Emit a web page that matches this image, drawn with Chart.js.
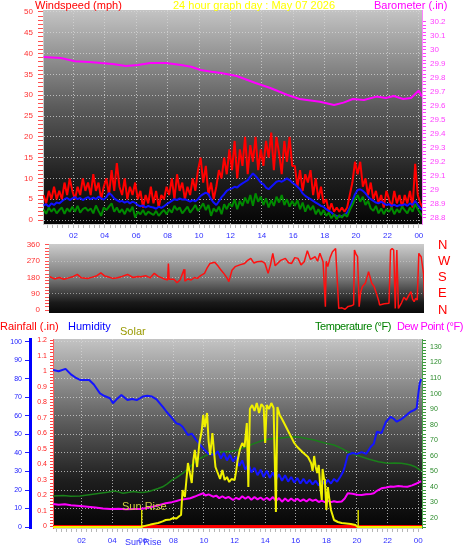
<!DOCTYPE html>
<html><head><meta charset="utf-8">
<script src="https://cdn.jsdelivr.net/npm/chart.js@4.4.1/dist/chart.umd.min.js"></script>
<style>
html,body{margin:0;padding:0;background:#fff;width:470px;height:554px;overflow:hidden;}
#wrap{position:relative;width:470px;height:554px;}
canvas{position:absolute;left:0;}
.t{position:absolute;font-family:"Liberation Sans",Arial,sans-serif;font-size:11px;line-height:11px;white-space:nowrap;}
</style></head><body>
<div id="wrap">
<canvas id="c1" width="470" height="245" style="top:0px"></canvas>
<canvas id="c2" width="470" height="102" style="top:228px"></canvas>
<canvas id="c3" width="470" height="234" style="top:320px"></canvas>
<div class="t" style="left:35px;top:0px;color:#ff0000">Windspeed (mph)</div>
<div class="t" style="left:173px;top:0px;color:#ffff00">24 hour graph day : May 07 2026</div>
<div class="t" style="left:374px;top:0px;color:#ff00ff">Barometer (.in)</div>
<div class="t" style="left:0px;top:321px;color:#ff0000">Rainfall (.in)</div>
<div class="t" style="left:68px;top:321px;color:#0000ff">Humidity</div>
<div class="t" style="left:120px;top:326px;color:#999900">Solar</div>
<div class="t" style="left:315px;top:321px;color:#008000;letter-spacing:-0.45px">Temperature (°F)</div>
<div class="t" style="left:397px;top:321px;color:#ff00ff;letter-spacing:-0.4px">Dew Point (°F)</div>
<div class="t" style="left:122px;top:501px;color:#d0d040">Sun Rise</div>
<div class="t" style="left:125px;top:537px;font-size:9px;color:#3030ff">Sun Rise</div>
</div>
<script>
// ---------- categories / tick labels ----------
const HOUR_TICKS  = [2,4,6,8,10,12,14,16,18,20,22,24];
const HOUR_LABELS = ['02','04','06','08','10','12','14','16','18','20','22','00'];
const WIND_TICKS  = [0,5,10,15,20,25,30,35,40,45,50];
const BARO_TICKS  = [28.8,28.9,29,29.1,29.2,29.3,29.4,29.5,29.6,29.7,29.8,29.9,30,30.1,30.2];
const DIR_TICKS   = [0,90,180,270,360];
const DIR_GRID    = [90,180,270];
const COMPASS     = ['N','E','S','W','N'];
const HUM_TICKS   = [0,10,20,30,40,50,60,70,80,90,100];
const RAIN_TICKS  = [0,0.1,0.2,0.3,0.4,0.5,0.6,0.7,0.8,0.9,1,1.1,1.2];
const TEMP_TICKS  = [20,30,40,50,60,70,80,90,100,110,120,130];

// ---------- wind speed (mph), one reading every 10 minutes from 00:06 ----------
const WIND_T0 = 0.1, WIND_DT = 1/6;
const GUST = [
 6,4,7,5,8,5, 7,5,9,6,10,7, 5,8,6,10,7,9, 6,11,7,9,5,8,
 10,6,12,7,13.7,8, 6,10,5,8,6,9, 5,7,3,6,4,8, 4,7,3,6,5,8,
 6,10,5,11,7,9, 5,8,6,10,7,12, 15,9,13,6,9,5, 8,12,10,15,11,17,
 12,19,10,17,13,20, 11,18,14,20,12,17, 13,19,15,21,12,20, 16,11,19,14,20,13,
 13,8,12,7,11,9, 12,6,10,5,8,4, 5,2,4,2,3,2, 3,2,3,6,9,14,
 11,14,8,10,6,9, 5,7,4,6,3,7, 5,3,7,4,6,3, 6,4,7,3,13.5,6,
 4,3];
const AVG = [
 3.5,3.8,3.2,4,3.6,4.2, 4,4.5,5,5.3,4.8,5.2, 5.5,5,5.3,4.8,5.2,5.5, 5,5.4,5,5.6,5.2,4.9,
 5.5,6.5,6,5.2,4.8,4.4, 4.6,4.2,4.5,4,4.4,4.1, 3.6,3.3,3.5,3,3.4,3.1, 3,2.7,3.2,2.9,3.3,3.8,
 4.2,4.6,5,4.8,5.2,4.9, 5,4.7,4.4,4.8,4.5,5, 5.8,6.2,6.6,6.2,5,4.2, 3.6,4.5,5.5,6.2,7,7.4,
 7.6,8,7.8,8.4,8.8,9.2, 9.6,10.4,11.2,10.6,9.8,9, 8.6,7.8,7.4,8,8.6,9.2, 9.4,9.2,9.6,10,9.6,9,
 8.6,8,7.4,6.4,5.8,5.4, 5,4.6,4.2,3.8,3.4,3.2, 2.6,2.2,1.8,1.2,1,0.8, 1,1.2,1.8,3,4.6,6.2,
 7.2,7.4,7,6.4,5.6,5, 4.6,4.2,4,4.4,4,3.6, 3.8,3.4,3.7,3.3,3.6,3.5, 3.8,3.4,4,3.6,4.6,3.6,
 2.8,2.4];
const LOW = [
 2.5,1.5,3,2,2.8,1.6, 2.4,3,1.5,2.8,2,3.2, 2,3.4,1.8,2.6,3,2.2, 2.8,1.6,3.5,2.2,1,3,
 2.4,3.2,4,2,3,1.8, 2.6,1.4,2.8,2,3.2,0.6, 2,1.4,2.4,1.2,2,1.6, 1.2,2.2,1,1.8,2.4,1.4,
 2.6,1.8,3.4,2.4,3,1.6, 2.4,3.2,1.8,2.6,3.6,2.2, 3,4,2.4,3.6,1,2.8, 2,3.2,1.4,3.8,2.6,4,
 3.2,5,2.6,4.6,3.4,5.4, 4,6,3.4,6.4,4.4,5.6, 3.6,5.2,3,4.8,3.4,5.6, 4.2,6,3.6,5,3.2,4.6,
 3.4,4.8,2.6,4.2,2,3.6, 2.4,3.4,1.4,2.6,1.2,2.4, 1,1.8,0.4,1.4,0.2,1.2, 0.6,1.4,0.8,2.4,3.6,5,
 6,4.4,5.6,3.6,4.6,2.8, 2.2,3.4,1.6,2.8,1.4,2.6, 2,3,1.4,2.6,1.8,3.2, 2.4,1.6,3,2,3.8,2.6,
 1.6,0.8];

// ---------- barometer (in) [hour, value] ----------
const BARO = [[0.1,29.95],[1.2,29.943],[2.1,29.92],[3.0,29.915],[3.75,29.907],[4.5,29.9],[5.35,29.886],
 [6.1,29.893],[6.9,29.907],[7.9,29.907],[8.85,29.893],[9.5,29.88],[10.1,29.857],[10.8,29.845],[11.4,29.836],
 [12.4,29.814],[13.6,29.764],[14.5,29.73],[15.6,29.68],[16.4,29.65],[17.7,29.63],[18.6,29.607],[19.2,29.624],
 [19.8,29.65],[20.5,29.643],[21.3,29.667],[21.9,29.657],[22.4,29.671],[23,29.65],[23.5,29.657],[24,29.71],[24.2,29.667]];

// ---------- wind direction (deg) [hour, value] ----------
const WIND_DIR = [[0.5,184],[0.8,172],[1.1,180],[1.4,170],[1.7,178],[2.0,186],[2.25,197],[2.5,178],[2.9,175],
 [3.2,182],[3.5,190],[3.75,206],[4.0,188],[4.2,184],[4.5,175],[4.8,179],[5.1,186],[5.45,197],[5.8,180],[6.1,186],
 [6.3,184],[6.6,190],[6.9,178],[7.15,203],[7.4,186],[7.6,179],[7.8,172],[8.0,166],[8.05,258],[8.1,170],[8.4,170],
 [8.6,151],[8.8,168],[9.05,225],[9.1,160],[9.3,172],[9.5,166],[9.7,180],[9.9,175],[10.1,190],[10.35,203],[10.5,230],
 [10.7,258],[11.0,264],[11.2,245],[11.4,221],[11.6,200],[11.8,175],[11.9,157],[12.1,220],[12.3,240],[12.6,250],
 [12.9,258],[13.1,275],[13.3,286],[13.5,260],[13.7,267],[14.0,270],[14.2,258],[14.4,203],[14.55,250],[14.7,314],
 [14.85,245],[15.0,258],[15.2,275],[15.5,286],[15.7,262],[15.9,258],[16.1,290],[16.3,286],[16.5,250],[16.7,267],
 [16.9,328],[17.1,280],[17.4,295],[17.55,270],[17.7,314],[17.9,267],[18.05,18],[18.1,270],[18.2,240],[18.35,290],
 [18.5,323],[18.7,341],[18.9,9],[19.1,12],[19.3,4],[19.5,20],[19.7,23],[19.85,30],[19.9,332],[20.0,310],[20.1,295],
 [20.2,18],[20.3,100],[20.4,129],[20.6,150],[20.8,212],[20.9,180],[21.0,148],[21.15,130],[21.3,92],[21.45,50],
 [21.5,28],[21.8,35],[22.1,37],[22.2,332],[22.3,340],[22.4,332],[22.5,9],[22.6,332],[22.7,9],[22.9,40],[23.05,70],
 [23.2,55],[23.35,80],[23.5,101],[23.6,60],[23.7,46],[23.8,65],[23.9,55],[24.0,314],[24.1,300],[24.15,295],
 [24.3,200],[24.4,9]];

// ---------- humidity (%) [hour, value] ----------
const HUMIDITY = [[0.13,84.9],[0.5,84.2],[0.95,85.5],[1.3,82.5],[1.6,80.8],[1.9,79.5],[2.5,79.5],[2.8,77],[3.2,72.2],
 [3.5,70.8],[3.85,69.6],[4.05,66.9],[4.35,69.5],[4.6,71.4],[4.8,70],[5.0,68.6],[5.3,69.2],[5.6,68.6],[6.0,70.5],
 [6.3,71],[6.6,70.5],[6.9,69],[7.1,67],[7.35,64.5],[7.55,62.3],[7.9,59],[8.2,56],[8.4,55.5],[8.6,54.2],[8.95,49.7],
 [9.2,50.5],[9.5,47],[9.7,45],[10.0,42],[10.3,39.5],[10.7,39],[10.9,41],[11.1,37],[11.3,40],[11.5,36],[11.7,39],
 [11.9,35.5],[12.1,38],[12.3,33],[12.5,36],[12.7,31],[12.9,34],[13.1,29.5],[13.3,32],[13.5,28],[13.7,31],[13.9,27],
 [14.1,30.5],[14.3,26.5],[14.5,29.5],[14.7,25.5],[14.9,28.5],[15.1,25],[15.3,28],[15.5,24.5],[15.7,27],[15.9,24],
 [16.1,26.5],[16.3,23.5],[16.5,26],[16.7,23.5],[16.9,25.5],[17.1,23],[17.3,25],[17.5,22.5],[17.7,25],[17.9,23],
 [18.1,25.5],[18.3,23.5],[18.5,26],[18.7,24.5],[18.9,27],[19.1,30],[19.2,32.6],[19.4,39],[19.7,40],[20.0,39.5],
 [20.3,40.5],[20.6,39.5],[20.9,43.4],[21.1,45],[21.3,51.5],[21.6,50.8],[21.9,56.9],[22.2,59.6],[22.4,58.5],
 [22.6,56.9],[22.85,58],[23.1,59.6],[23.3,61],[23.5,62.3],[23.7,63],[23.9,64.1],[24.0,71.4],[24.1,77.7],[24.2,80]];

// ---------- temperature (F) [hour, value] ----------
const TEMPERATURE = [[0.13,34.1],[0.8,34.5],[1.3,34],[1.9,34.1],[2.5,35],[3.2,35.9],[3.7,36.5],[4.1,37.4],[4.4,36.8],
 [4.7,35.9],[5.1,36.5],[5.4,37],[5.7,36.6],[6.0,36.4],[6.4,37],[6.7,38],[7.0,39],[7.3,40.1],[7.6,42],[7.9,44.4],
 [8.2,46],[8.6,48.7],[9.0,52],[9.3,55.2],[9.6,57.5],[9.95,59.4],[10.3,61],[10.6,62],[11.0,62.4],[11.4,62.6],
 [11.9,63],[12.3,64],[12.8,66],[13.3,68],[13.8,69.8],[14.2,70.6],[14.6,71.3],[15.0,71.5],[15.5,72],[15.9,72.3],
 [16.3,72],[16.7,71.2],[17.2,70.2],[17.6,69],[18.0,68],[18.5,67],[19.0,64.8],[19.4,62.6],[19.8,61],[20.3,59.4],
 [20.8,57.8],[21.4,56.2],[22.0,55.2],[22.5,55.4],[22.9,55.2],[23.2,54.8],[23.5,54.1],[23.8,53],[24.1,50.9],[24.2,50.5]];

// ---------- dew point (F) [hour, value] ----------
const DEW_POINT = [[0.13,29],[0.5,28.6],[0.9,28.9],[1.3,28.2],[1.9,27.7],[2.4,27.2],[2.9,26.7],[3.4,26.1],[3.9,25.8],
 [4.4,25.9],[4.9,25.6],[5.4,25.8],[5.8,25.8],[6.3,26.5],[6.7,27.4],[7.1,28.4],[7.5,29.5],[7.9,30.2],[8.2,30.9],
 [8.5,31.8],[8.8,32.2],[9.1,32.7],[9.4,33.8],[9.7,35],[9.95,35.9],[10.1,34.5],[10.3,35.2],[10.6,33.7],[10.8,34.4],
 [11.0,32.8],[11.2,34],[11.4,32.7],[11.6,33.6],[11.9,31.6],[12.1,33],[12.3,32],[12.5,34],[12.7,32.4],[12.9,33.7],
 [13.1,31.8],[13.3,33.5],[13.5,32],[13.7,33.2],[13.9,31.6],[14.1,33],[14.3,31.5],[14.5,33.5],[14.7,31],[14.9,32.8],
 [15.1,30.5],[15.3,32.5],[15.5,30.8],[15.7,32.6],[15.9,31],[16.1,32.4],[16.3,30.8],[16.5,32],[16.7,30.6],[16.9,32.2],
 [17.1,31],[17.3,31.8],[17.5,30.3],[17.7,31.2],[17.9,30.2],[18.1,31],[18.3,30.2],[18.5,30.8],[18.7,30.3],[19.0,30.6],
 [19.2,32.5],[19.4,35.9],[19.7,35.6],[20.0,35],[20.3,34.8],[20.6,35.3],[20.9,35.5],[21.1,35.9],[21.3,37.5],[21.6,39.1],
 [21.9,39.6],[22.2,40.2],[22.4,40.1],[22.7,40.6],[23.0,40.2],[23.3,40.1],[23.6,41],[23.9,42.2],[24.1,43.3],[24.2,43.5]];

// ---------- solar (W/m2) [hour, value] ----------
const SOLAR = [[0.13,0],[5.93,0],[6.0,3],[6.5,12],[7.0,20],[7.3,28],[7.5,35],[7.8,38],[8.0,45],[8.2,42],[8.4,55],[8.5,60],
 [8.6,185],[8.75,150],[8.85,235],[8.95,320],[9.1,260],[9.2,220],[9.3,330],[9.4,385],[9.55,300],[9.7,420],[9.85,480],
 [9.95,560],[10.05,500],[10.2,570],[10.3,430],[10.4,360],[10.55,470],[10.65,380],[10.75,300],[10.9,270],[11.05,240],
 [11.2,285],[11.35,235],[11.5,250],[11.65,225],[11.8,240],[12.0,235],[12.1,280],[12.2,335],[12.35,390],[12.5,420],
 [12.65,400],[12.8,520],[12.9,200],[13.0,590],[13.15,610],[13.3,580],[13.45,620],[13.6,570],[13.75,615],[13.9,600],
 [14.0,420],[14.1,610],[14.25,590],[14.4,620],[14.55,595],[14.7,75],[14.8,600],[14.95,560],[15.1,540],[15.3,510],
 [15.5,480],[15.7,450],[15.9,420],[16.1,400],[16.3,385],[16.5,370],[16.8,350],[17.0,320],[17.1,280],[17.2,355],
 [17.3,300],[17.4,270],[17.5,310],[17.6,200],[17.7,135],[17.75,290],[17.85,240],[17.9,235],[18.0,85],[18.1,200],
 [18.2,135],[18.3,85],[18.4,60],[18.5,35],[18.75,25],[19.0,20],[19.3,18],[19.6,15],[19.9,10],[20.05,0],[24.25,0]];
const SUN_EVENTS = [5.93, 20.08];   // sunrise, sunset (hour)
const SUN_MARK = [-5, 85];          // marker height (solar units)

// ---------- rainfall (in) [hour, value] ----------
const RAIN = [[0.13,0],[6,0],[12,0],[18,0],[24.25,0]];

// ---------- helpers ----------
const F = '"Liberation Sans", Arial, Helvetica, sans-serif';
const GRID = 'rgba(215,215,215,0.75)';
const NONE = 'rgba(0,0,0,0)';
const AXIS_BLUE = '#3030ff';
const near = (a, b) => Math.abs(a - b) < 1e-6;
const xy = arr => arr.map(p => ({x: p[0], y: p[1]}));
const series = (vals) => vals.map((v, i) => ({x: WIND_T0 + i * WIND_DT, y: v}));
function steps(a, b, st) { const o = []; const n = Math.round((b - a) / st); for (let k = 0; k <= n; k++) o.push(Math.round((a + k * st) * 1e6) / 1e6); return o; }
const setTicks = vals => s => { s.ticks = vals.filter(v => v >= s.min - 1e-9 && v <= s.max + 1e-9).map(v => ({value: v})); };
const labelFrom = (arr, fmt) => v => { const i = arr.findIndex(t => near(t, v)); return i < 0 ? '' : fmt(arr[i], i); };
const gridAt = (arr, col) => c => (c.tick && arr.some(t => near(t, c.tick.value))) ? col : NONE;
const fmtNum = v => String(Number(v.toFixed(2)));
const MINOR_HOURS = steps(1/3, 25, 1/3);

const bgPlugin = {
  id: 'bg',
  beforeDraw(chart, args, opts) {
    const {ctx, chartArea: a} = chart;
    const g = ctx.createLinearGradient(0, a.top, 0, a.bottom);
    opts.stops.forEach(s => g.addColorStop(s[0], s[1]));
    ctx.save(); ctx.fillStyle = g; ctx.fillRect(a.left, a.top, a.right - a.left, a.bottom - a.top); ctx.restore();
  }
};
Chart.defaults.font.family = F;

const lineDs = (data, color, width, axis) => ({data, borderColor: color, borderWidth: width, pointRadius: 0,
  tension: 0, borderJoinStyle: 'bevel', fill: false, yAxisID: axis});

const hourAxis = (min, max, h, pad) => ({
  type: 'linear', min, max,
  afterBuildTicks: setTicks(MINOR_HOURS),
  ticks: {autoSkip: false, maxRotation: 0, minRotation: 0, padding: pad, color: AXIS_BLUE,
          font: {family: F, size: 8}, callback: labelFrom(HOUR_TICKS, (t, i) => HOUR_LABELS[i])},
  grid: {color: gridAt(HOUR_TICKS, GRID), tickColor: '#b8b8b8', tickLength: 4},
  border: {display: true, color: '#d0d0d0', dash: [1, 2]},
  afterFit: s => { s.height = h; }
});

// ---------- chart 1 : wind speed & barometer ----------
new Chart(document.getElementById('c1'), {
  type: 'line',
  data: {datasets: [
    lineDs(xy(BARO), '#ff00ff', 2, 'yB'),
    lineDs(series(LOW), '#008a00', 2, 'y'),
    lineDs(series(AVG), '#1010ff', 2, 'y'),
    lineDs(series(GUST), '#ff0000', 2, 'y')
  ]},
  options: {
    responsive: false, animation: false, devicePixelRatio: 1,
    layout: {padding: {top: 10, left: 0, right: 0, bottom: 0}},
    plugins: {legend: {display: false}, tooltip: {enabled: false},
      bg: {stops: [[0, '#c4c4c4'], [0.45, '#5c5c5c'], [0.8, '#1c1c1c'], [1, '#050505']]}},
    scales: {
      x: hourAxis(0.064, 24.2, 21, 3),
      y: {position: 'left', min: -0.96, max: 50.48,
        afterBuildTicks: setTicks(steps(0, 50, 1)),
        ticks: {autoSkip: false, padding: 5, color: '#ff3030', font: {family: F, size: 8},
                callback: labelFrom(WIND_TICKS, t => String(t))},
        grid: {color: gridAt(WIND_TICKS, GRID), tickColor: '#ff5050', tickLength: 5},
        border: {display: true, color: '#c8c8c8', dash: [1, 2]},
        afterFit: s => { s.width = 43; }},
      yB: {position: 'right', min: 28.757, max: 30.2857,
        afterBuildTicks: setTicks(steps(28.8, 30.2, 0.025)),
        ticks: {autoSkip: false, padding: 4, color: '#ff40ff', font: {family: F, size: 8},
                callback: labelFrom(BARO_TICKS, fmtNum)},
        grid: {drawOnChartArea: false, color: '#ff40ff', tickColor: '#ff40ff', tickLength: 4},
        border: {display: true, color: '#ff80ff'},
        afterFit: s => { s.width = 48; }}
    }
  },
  plugins: [bgPlugin]
});

// ---------- chart 2 : wind direction ----------
new Chart(document.getElementById('c2'), {
  type: 'line',
  data: {datasets: [lineDs(xy(WIND_DIR), '#ff1010', 1.5, 'y')]},
  options: {
    responsive: false, animation: false, devicePixelRatio: 1,
    layout: {padding: {top: 16, left: 0, right: 0, bottom: 17}},
    plugins: {legend: {display: false}, tooltip: {enabled: false},
      bg: {stops: [[0, '#cccccc'], [0.5, '#777777'], [0.85, '#1a1a1a'], [1, '#080808']]}},
    scales: {
      x: {type: 'linear', display: false, min: 0.446, max: 24.33},
      y: {position: 'left', min: -16.6, max: 365.5,
        afterBuildTicks: setTicks(steps(0, 360, 18)),
        ticks: {autoSkip: false, padding: 5, color: '#ff3030', font: {family: F, size: 8},
                callback: labelFrom(DIR_TICKS, t => String(t))},
        grid: {color: gridAt(DIR_GRID, 'rgba(210,210,210,0.6)'), tickColor: '#ff5050', tickLength: 4},
        border: {display: false, dash: [1, 2]},
        afterFit: s => { s.width = 49; }},
      yC: {position: 'right', min: -16.6, max: 365.5,
        afterBuildTicks: setTicks(DIR_TICKS),
        ticks: {autoSkip: false, padding: 2, color: '#ff0000', font: {family: F, size: 13},
                callback: labelFrom(DIR_TICKS, (t, i) => COMPASS[i])},
        grid: {display: true, drawOnChartArea: false, color: NONE, tickColor: NONE, tickLength: 12},
        border: {display: false},
        afterFit: s => { s.width = 46; }}
    }
  },
  plugins: [bgPlugin]
});

// ---------- chart 3 : rain, humidity, solar, temperature, dew point ----------
const sunLines = SUN_EVENTS.map(t => lineDs(SUN_MARK.map(v => ({x: t, y: v})), '#d8d800', 1.5, 'yS'));
new Chart(document.getElementById('c3'), {
  type: 'line',
  data: {datasets: [
    lineDs(xy(SOLAR), '#f0f000', 2, 'yS'),
    ...sunLines,
    lineDs(xy(HUMIDITY), '#1414ff', 2, 'yH'),
    lineDs(xy(DEW_POINT), '#ff00ff', 2, 'yT'),
    lineDs(xy(TEMPERATURE), '#1a801a', 1.5, 'yT'),
    lineDs(xy(RAIN), '#ff0000', 3, 'yR')
  ]},
  options: {
    responsive: false, animation: false, devicePixelRatio: 1,
    layout: {padding: {top: 19, left: 0, right: 0, bottom: 0}},
    plugins: {legend: {display: false}, tooltip: {enabled: false},
      bg: {stops: [[0, '#c4c4c4'], [0.45, '#5a5a5a'], [0.75, '#1e1e1e'], [1, '#050505']]}},
    scales: {
      x: hourAxis(0.13, 24.25, 26, 4),
      yH: {position: 'left', weight: 1, min: -0.54, max: 101.62,
        afterBuildTicks: setTicks(HUM_TICKS),
        ticks: {autoSkip: false, padding: 3, color: '#2020ff', font: {family: F, size: 7},
                callback: labelFrom(HUM_TICKS, t => String(t))},
        grid: {color: GRID, tickColor: '#2020ff', tickLength: 5},
        border: {display: true, color: '#0000ff', width: 3, dash: [1, 2]},
        afterFit: s => { s.width = 30; }},
      yR: {position: 'left', weight: 0, min: -0.0097, max: 1.2097,
        afterBuildTicks: setTicks(steps(0, 1.2, 0.02)),
        ticks: {autoSkip: false, padding: 3, color: '#ff2020', font: {family: F, size: 7},
                callback: labelFrom(RAIN_TICKS, fmtNum)},
        grid: {drawOnChartArea: false, tickColor: '#ff4040', tickLength: 3},
        border: {display: true, color: '#ff6060'},
        afterFit: s => { s.width = 23; }},
      yT: {position: 'right', min: 13.57, max: 135.15,
        afterBuildTicks: setTicks(steps(14, 134, 2)),
        ticks: {autoSkip: false, padding: 4, color: '#2a8a2a', font: {family: F, size: 7},
                callback: labelFrom(TEMP_TICKS, t => String(t))},
        grid: {drawOnChartArea: false, tickColor: '#3a9a3a', tickLength: 4},
        border: {display: true, color: '#4aa04a'},
        afterFit: s => { s.width = 48; }},
      yS: {display: false, min: -5, max: 940}
    }
  },
  plugins: [bgPlugin]
});
</script>
</body></html>
